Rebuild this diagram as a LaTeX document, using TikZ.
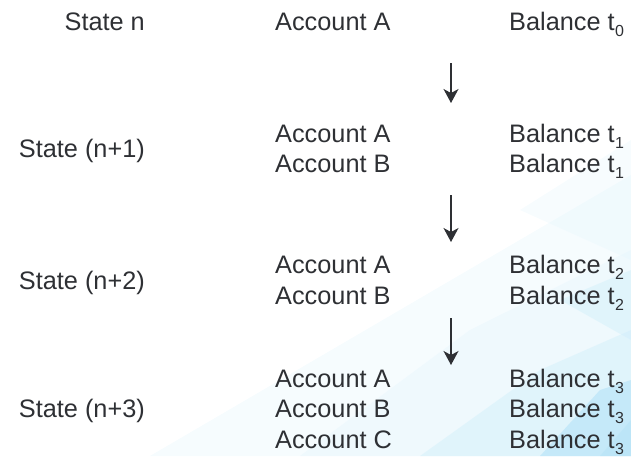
\documentclass[tikz,border=0pt]{standalone}
\usepackage{fontspec}
\setmainfont{Liberation Sans}
\usetikzlibrary{arrows.meta}
\definecolor{textgray}{HTML}{2E3034}
\definecolor{facetlight}{HTML}{E4F5FC}
\definecolor{facetmid}{HTML}{CDEDFA}
\definecolor{facetdeep}{HTML}{B4E3F7}
\newcommand{\balsub}[1]{t\kern0.5pt\raisebox{-6pt}{\fontsize{16}{16}\selectfont #1}}
\begin{document}
\begin{tikzpicture} [x = 1pt, y = -1pt,
	lbl/.style = {text = textgray, inner sep = 0pt, font = \fontsize{25.3}{28}\selectfont},
	statelbl/.style = {lbl, anchor = base east},
	acclbl/.style = {lbl, anchor = base west},
	steparrow/.style = {draw = textgray, line width = 1.4pt, -{Stealth[length = 14pt, width = 15pt, inset = 4pt]}}]
	\useasboundingbox (0,0) rectangle (631,456);
	% background facets
	\fill [facetlight, opacity = 0.35] (150,456) -- (631,175) -- (631,456) -- cycle;
	\fill [facetlight, opacity = 0.4] (300,456) -- (470,330) -- (631,250) -- (631,456) -- cycle;
	\fill [facetlight, opacity = 0.3] (520,210) -- (631,140) -- (631,260) -- cycle;
	\fill [facetmid, opacity = 0.4] (420,456) -- (540,370) -- (631,330) -- (631,456) -- cycle;
	\fill [facetmid, opacity = 0.4] (560,300) -- (631,270) -- (631,340) -- cycle;
	\fill [facetdeep, opacity = 0.6] (540,456) -- (600,390) -- (631,380) -- (631,456) -- cycle;
	\fill [facetdeep, opacity = 0.5] (600,456) -- (631,420) -- (631,456) -- cycle;
	% state n
	\node [statelbl] (s0) at (145,30) {State n};
	\node [acclbl] (s0a) at (275,30) {Account A};
	\node [acclbl] (s0ba) at (509,30) {Balance \balsub{0}};
	% state n+1
	\node [statelbl] (s1) at (145,157) {State (n+1)};
	\node [acclbl] (s1a) at (275,142) {Account A};
	\node [acclbl] (s1b) at (275,172) {Account B};
	\node [acclbl] (s1ba) at (509,142) {Balance \balsub{1}};
	\node [acclbl] (s1bb) at (509,172) {Balance \balsub{1}};
	% state n+2
	\node [statelbl] (s2) at (145,289) {State (n+2)};
	\node [acclbl] (s2a) at (275,273) {Account A};
	\node [acclbl] (s2b) at (275,304) {Account B};
	\node [acclbl] (s2ba) at (509,273) {Balance \balsub{2}};
	\node [acclbl] (s2bb) at (509,304) {Balance \balsub{2}};
	% state n+3
	\node [statelbl] (s3) at (145,417) {State (n+3)};
	\node [acclbl] (s3a) at (275,387) {Account A};
	\node [acclbl] (s3b) at (275,417) {Account B};
	\node [acclbl] (s3c) at (275,448) {Account C};
	\node [acclbl] (s3ba) at (509,387) {Balance \balsub{3}};
	\node [acclbl] (s3bb) at (509,417) {Balance \balsub{3}};
	\node [acclbl] (s3bc) at (509,448) {Balance \balsub{3}};
	% transitions
	\coordinate (t0top) at (451,63);
	\coordinate (t0tip) at (451,103);
	\coordinate (t1top) at (451,195);
	\coordinate (t1tip) at (451,242);
	\coordinate (t2top) at (451,318);
	\coordinate (t2tip) at (451,365);
	\draw [steparrow] (t0top) -- (t0tip);
	\draw [steparrow] (t1top) -- (t1tip);
	\draw [steparrow] (t2top) -- (t2tip);
\end{tikzpicture}
\end{document}
